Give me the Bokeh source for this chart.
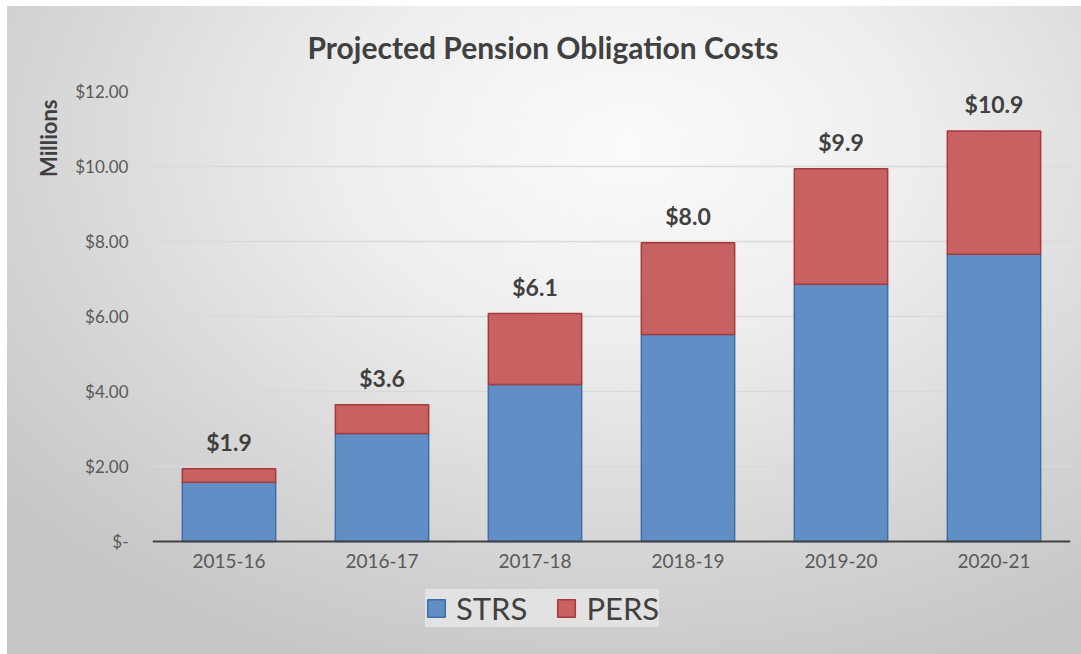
from bokeh.plotting import figure
from bokeh.models import Range1d, FixedTicker, Title, Legend, LegendItem
from bokeh.core.properties import value
from bokeh.embed import file_html
from bokeh.resources import INLINE

# ---- data ----
years = ["2015-16", "2016-17", "2017-18", "2018-19", "2019-20", "2020-21"]
strs = [1.58, 2.88, 4.19, 5.52, 6.86, 7.66]
pers = [0.36, 0.77, 1.89, 2.45, 3.08, 3.29]
total_labels = ["$1.9", "$3.6", "$6.1", "$8.0", "$9.9", "$10.9"]
y_ticks = [0, 2, 4, 6, 8, 10, 12]
y_tick_labels = ["$-", "$2.00", "$4.00", "$6.00", "$8.00", "$10.00", "$12.00"]
series = ["STRS", "PERS"]
title_text = "Projected Pension Obligation Costs"
y_title = "Millions"

FONT = "Lato"
BLUE, BLUE_LINE = "#628ec6", "#3f6ea8"
RED, RED_LINE = "#c86262", "#a63a3a"

# layout: value axis 0..12 spans 450 px; the frame is extended below zero to hold the legend
Y_MAX = 12
PLOT_PX = 450
FRAME_H = 538
y_start = Y_MAX - FRAME_H / (PLOT_PX / Y_MAX)

totals = [a + b for a, b in zip(strs, pers)]
src = dict(year=years, STRS=strs, PERS=pers, total=totals, lab=total_labels)

p = figure(x_range=years, y_range=Range1d(y_start, Y_MAX), frame_width=918, frame_height=FRAME_H,
           output_backend="svg", toolbar_location=None,
           min_border_left=152, min_border_right=11, min_border_top=87, min_border_bottom=29)
p.border_fill_color = None
p.background_fill_color = None
p.outline_line_color = None
p.styles = {
    "background": "linear-gradient(#ffffff,#ffffff) 0 0 / 100% 6px no-repeat, "
                  "linear-gradient(#ffffff,#ffffff) 0 0 / 7px 100% no-repeat, "
                  "radial-gradient(ellipse 75% 85% at 58% 22%, #fbfbfb 0%, #eeeeee 35%, #d4d4d4 75%, #c6c6c6 100%)"
}

renderers = p.vbar_stack(series, x="year", width=0.61, source=src,
                         fill_color=[BLUE, RED], line_color=[BLUE_LINE, RED_LINE], line_width=1.5)

p.text(x="year", y="total", text="lab", source=src, text_align="center", text_baseline="middle",
       y_offset=-27, text_font=value(FONT), text_font_style="bold", text_font_size="23px",
       text_color="#404040")

# axes
p.yaxis.ticker = FixedTicker(ticks=y_ticks)
p.yaxis.major_label_overrides = {float(t): l for t, l in zip(y_ticks, y_tick_labels)}
p.yaxis.axis_line_color = None
p.yaxis.major_tick_line_color = None
p.yaxis.minor_tick_line_color = None
p.yaxis.major_label_standoff = 18
p.yaxis.major_label_text_font = FONT
p.yaxis.major_label_text_font_size = "17px"
p.yaxis.major_label_text_color = "#595959"

p.xaxis.fixed_location = 0
p.xaxis.axis_line_color = "#404040"
p.xaxis.axis_line_width = 2
p.xaxis.major_tick_line_color = None
p.xaxis.minor_tick_line_color = None
p.xaxis.major_label_standoff = 6
p.xaxis.major_label_text_font = FONT
p.xaxis.major_label_text_font_size = "19px"
p.xaxis.major_label_text_color = "#595959"

p.xgrid.grid_line_color = None
p.ygrid.grid_line_color = "#d9d9d9"
p.ygrid.grid_line_width = 1.5

# title and y title
p.add_layout(Title(text=title_text, align="left", offset=155, standoff=53,
                   text_font=FONT, text_font_style="bold", text_font_size="30px",
                   text_color="#404040"), "above")
p.add_layout(Title(text=y_title, align="right", offset=8, standoff=21,
                   text_font=FONT, text_font_style="bold", text_font_size="22px",
                   text_color="#404040"), "left")

legend = Legend(items=[LegendItem(label=s, renderers=[r]) for s, r in zip(series, renderers)],
                orientation="horizontal", location=(273, 2),
                glyph_width=22, glyph_height=22, label_standoff=9, spacing=28, padding=8,
                label_height=30,
                label_text_font=FONT, label_text_font_size="31px", label_text_color="#404040",
                background_fill_color="#e2e2e2", background_fill_alpha=1.0,
                border_line_color=None, margin=0)
p.add_layout(legend, "center")

open("out.html", "w").write(file_html(p, INLINE))
